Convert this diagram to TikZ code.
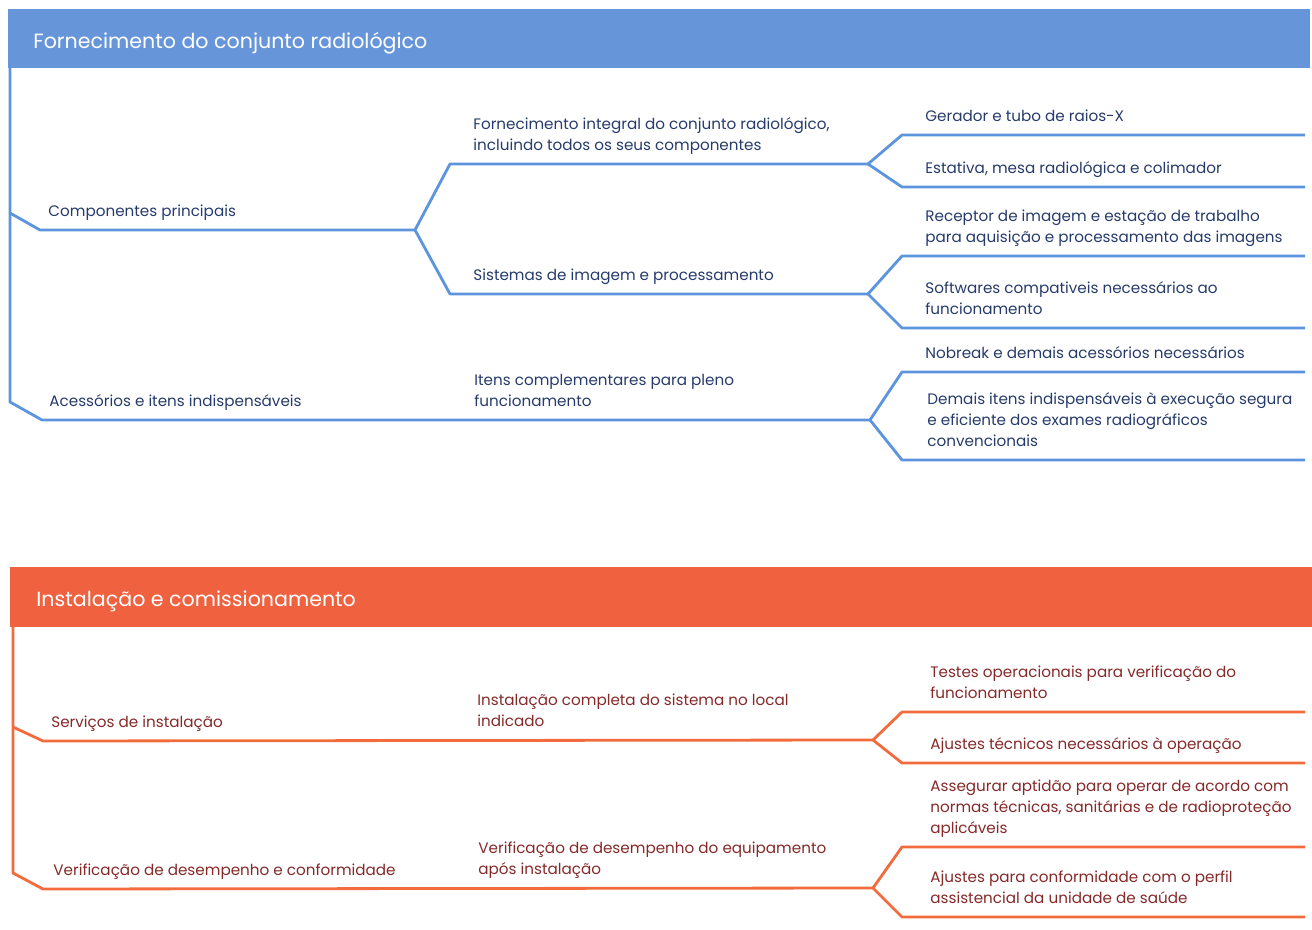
\documentclass[tikz,border=0pt]{standalone}
\usepackage{fontspec}
\setmainfont{Poppins}
\usepackage{tikz}
\usetikzlibrary{positioning}
\definecolor{azul}{rgb}{0.40, 0.59, 0.85}
\definecolor{azullinha}{rgb}{0.36, 0.58, 0.87}
\definecolor{azultexto}{rgb}{0.15, 0.23, 0.42}
\definecolor{laranja}{rgb}{0.94, 0.38, 0.25}
\definecolor{laranjalinha}{rgb}{0.95, 0.42, 0.24}
\definecolor{laranjatexto}{rgb}{0.52, 0.16, 0.16}
\tikzstyle{cab}=[anchor=west,inner sep=0pt,text=white,font=\fontsize{10.3}{12}\selectfont]
\tikzstyle{txt}=[anchor=south west,inner sep=0pt,align=left,text depth=1.5pt,font=\fontsize{7.6}{10.5}\selectfont]
\tikzstyle{linhaazul}=[azullinha,line width=1.4pt,line join=round]
\tikzstyle{linhalar}=[laranjalinha,line width=1.4pt,line join=round]
\newcommand{\garfo}[4]{
  \draw[#1] (1305,#3) -- (902,#3) -- (#2) -- (902,#4) -- (1305,#4);
}

\begin{document}
\begin{tikzpicture}[x=0.5pt,y=-0.5pt]
\useasboundingbox (0,0) rectangle (1312,930);

% bloco azul
\fill[azul] (8,9) rectangle (1310,68);
\node[cab] (cab1) at (33,43) {Fornecimento do conjunto radiológico};

\coordinate (b0) at (10,68);
\coordinate (b1) at (10,213);
\coordinate (b1e) at (40,230);
\coordinate (b2) at (10,402);
\coordinate (b2e) at (42,420);
\coordinate (m1) at (415,230);
\coordinate (m1a) at (450,164);
\coordinate (m1b) at (450,294);
\coordinate (f1) at (868,164);
\coordinate (f2) at (868,294);
\coordinate (f3) at (870,420);

\draw[linhaazul] (b0) -- (b2) -- (b2e) -- (f3);
\draw[linhaazul] (b1) -- (b1e) -- (m1);
\draw[linhaazul] (f1) -- (m1a) -- (m1) -- (m1b) -- (f2);
\garfo{linhaazul}{f1}{135}{187}
\garfo{linhaazul}{f2}{256}{328}
\garfo{linhaazul}{f3}{372}{460}

\begin{scope}[every node/.style={txt,text=azultexto}]
\node (comp) at (48,220) {Componentes principais};
\node (aces) at (49,410) {Acessórios e itens indispensáveis};
\node (fint) at (473,154) {Fornecimento integral do conjunto radiológico,\\incluindo todos os seus componentes};
\node (sist) at (473,284) {Sistemas de imagem e processamento};
\node (itens) at (474,410) {Itens complementares para pleno\\funcionamento};
\node (ger) at (925,125) {Gerador e tubo de raios-X};
\node (est) at (925,177) {Estativa, mesa radiológica e colimador};
\node (rec) at (925,246) {Receptor de imagem e estação de trabalho\\para aquisição e processamento das imagens};
\node (soft) at (925,318) {Softwares compativeis necessários ao\\funcionamento};
\node (nob) at (925,362) {Nobreak e demais acessórios necessários};
\node (dem) at (927,450) {Demais itens indispensáveis à execução segura\\e eficiente dos exames radiográficos\\convencionais};
\end{scope}

% bloco laranja
\fill[laranja] (10,567) rectangle (1312,627);
\node[cab] (cab2) at (36,601) {Instalação e comissionamento};

\coordinate (c0) at (13,627);
\coordinate (c1) at (13,727);
\coordinate (c1e) at (43,741);
\coordinate (c2) at (13,873);
\coordinate (c2e) at (43,889);
\coordinate (o1) at (873,740);
\coordinate (o2) at (873,888);

\draw[linhalar] (c0) -- (c2) -- (c2e) -- (o2);
\draw[linhalar] (c1) -- (c1e) -- (o1);
\garfo{linhalar}{o1}{712}{763}
\garfo{linhalar}{o2}{847}{917}

\begin{scope}[every node/.style={txt,text=laranjatexto}]
\node (serv) at (51,731) {Serviços de instalação};
\node (verif) at (53,879) {Verificação de desempenho e conformidade};
\node (inst) at (477,730) {Instalação completa do sistema no local\\indicado};
\node (veq) at (478,878) {Verificação de desempenho do equipamento\\após instalação};
\node (test) at (930,702) {Testes operacionais para verificação do\\funcionamento};
\node (ajt) at (930,753) {Ajustes técnicos necessários à operação};
\node (asse) at (930,837) {Assegurar aptidão para operar de acordo com\\normas técnicas, sanitárias e de radioproteção\\aplicáveis};
\node (ajc) at (930,907) {Ajustes para conformidade com o perfil\\assistencial da unidade de saúde};
\end{scope}

\end{tikzpicture}
\end{document}
